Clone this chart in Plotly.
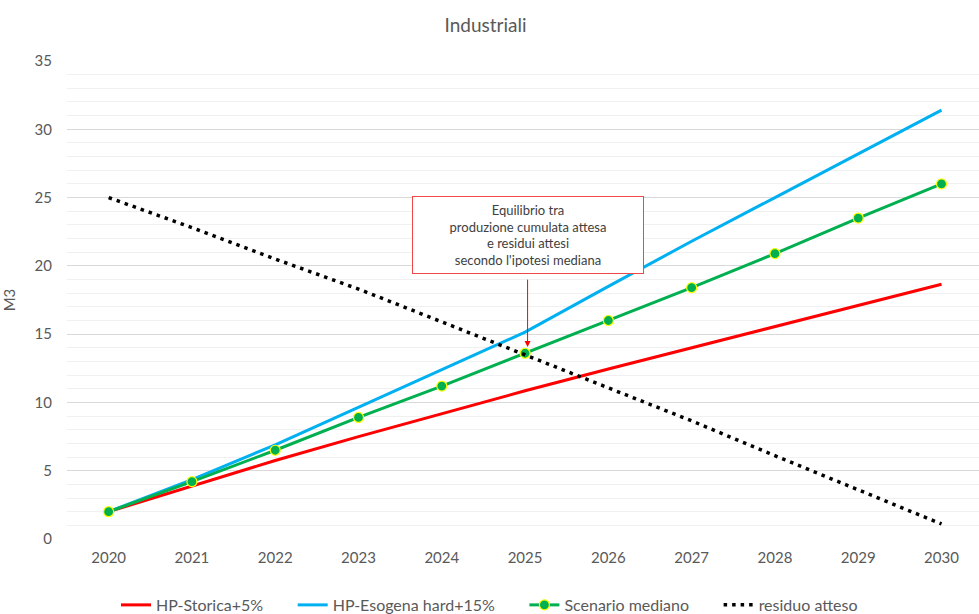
import plotly.graph_objects as go

anni = [2020, 2021, 2022, 2023, 2024, 2025, 2026, 2027, 2028, 2029, 2030]
storica = [2.0, 3.9, 5.75, 7.5, 9.2, 10.85, 12.45, 14.0, 15.55, 17.1, 18.65]
esogena = [2.0, 4.35, 6.9, 9.65, 12.35, 15.15, 18.5, 21.8, 25.0, 28.2, 31.4]
mediano = [2.0, 4.2, 6.5, 8.9, 11.2, 13.6, 16.0, 18.4, 20.9, 23.5, 26.0]
residuo = [25.0, 22.8, 20.5, 18.3, 15.9, 13.5, 11.1, 8.65, 6.1, 3.6, 1.1]

testo_box = "Equilibrio tra<br>produzione cumulata attesa<br>e residui attesi<br>secondo l'ipotesi mediana"

grigio = "#595959"
fnt = "Lato"
sp = "\u00a0" * 6  # spazio tra le voci della legenda

fig = go.Figure()
fig.add_trace(go.Scatter(x=anni, y=storica, mode="lines", name="HP-Storica+5%" + sp,
                         line=dict(color="#FF0000", width=3)))
fig.add_trace(go.Scatter(x=anni, y=esogena, mode="lines", name="HP-Esogena hard+15%" + sp,
                         line=dict(color="#00B0F0", width=3)))
fig.add_trace(go.Scatter(x=anni, y=mediano, mode="lines+markers", name="Scenario mediano" + sp,
                         line=dict(color="#00B050", width=3),
                         marker=dict(color="#00B050", size=10, line=dict(color="#FFFF00", width=1.2))))
fig.add_trace(go.Scatter(x=anni, y=residuo, mode="lines", name="residuo atteso",
                         line=dict(color="black", width=3.5, dash="3.5px,5px")))

# freccia
fig.add_annotation(x=2025.03, y=14.05, xref="x", yref="y", text="", showarrow=True,
                   ax=0, ay=-69, arrowhead=2, arrowsize=1.2, arrowwidth=1, arrowcolor="#FF0000")
# riquadro
fig.add_annotation(x=2025.03, y=22.25, xref="x", yref="y", text=testo_box, showarrow=False,
                   width=230, height=76, borderpad=0, bgcolor="white",
                   bordercolor="#F04848", borderwidth=1,
                   font=dict(family=fnt, size=13, color="#404040"))

fig.update_layout(
    width=979, height=614,
    paper_bgcolor="white", plot_bgcolor="white",
    margin=dict(l=67, r=0, t=61, b=75),
    title=dict(text="Industriali", x=0.496, xref="container", xanchor="center", y=0.959, yanchor="middle",
               font=dict(family=fnt, size=19, color=grigio)),
    showlegend=True,
    legend=dict(orientation="h", x=0.5, xanchor="center", xref="container",
                y=0.0147, yanchor="middle", yref="container", itemwidth=30,
                font=dict(family=fnt, size=16, color=grigio)),
    font=dict(family=fnt, color=grigio),
)
fig.update_xaxes(range=[2019.5, 2030.45], tickmode="array", tickvals=anni, showgrid=False,
                 zeroline=False, showline=False, ticklabelstandoff=8,
                 tickfont=dict(family=fnt, size=15, color=grigio))
fig.update_yaxes(range=[0, 35], dtick=5, showgrid=True, gridcolor="#D9D9D9", gridwidth=1,
                 minor=dict(dtick=1, showgrid=True, gridcolor="#F0F0F0", gridwidth=1),
                 zeroline=False, showline=False, ticklabelstandoff=14,
                 tickfont=dict(family=fnt, size=15, color=grigio),
                 title=dict(text="M3", standoff=20, font=dict(family=fnt, size=15, color=grigio)))

fig.write_html("out.html", config={"displayModeBar": False},
               post_script="document.body.style.margin='0';")
